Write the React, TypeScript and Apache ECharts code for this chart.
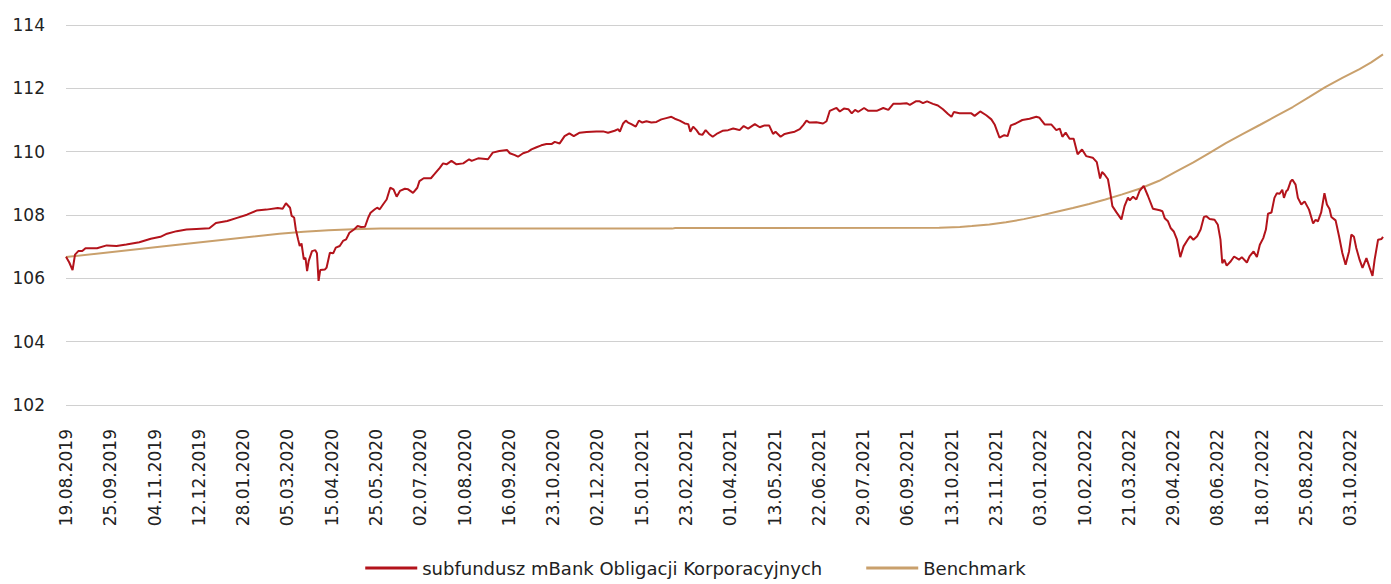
import React, { useEffect, useRef } from "react";
import * as echarts from "echarts";

// Tick labels every 27 business days (index 0 = 19.08.2019)
const tickLabels = [
  "19.08.2019", "25.09.2019", "04.11.2019", "12.12.2019", "28.01.2020", "05.03.2020",
  "15.04.2020", "25.05.2020", "02.07.2020", "10.08.2020", "16.09.2020", "23.10.2020",
  "02.12.2020", "15.01.2021", "23.02.2021", "01.04.2021", "13.05.2021", "22.06.2021",
  "29.07.2021", "06.09.2021", "13.10.2021", "23.11.2021", "03.01.2022", "10.02.2022",
  "21.03.2022", "29.04.2022", "08.06.2022", "18.07.2022", "25.08.2022", "03.10.2022",
];
const tickStep = 27;
const lastIndex = 803;

const fundName = "subfundusz mBank Obligacji Korporacyjnych";
const benchName = "Benchmark";

// [business-day index, value]
const fundValues: [number, number][] = [
  [0, 106.68], [2, 106.5], [4, 106.26], [5.5, 106.75], [7.5, 106.86], [9.9, 106.86], [11.9, 106.95],
  [18.9, 106.95], [24.8, 107.04], [30.8, 107.02], [36.8, 107.07], [44.7, 107.14], [51.7, 107.25],
  [57.6, 107.31], [61.6, 107.41], [67.5, 107.49], [73.5, 107.54], [79.5, 107.56], [87.4, 107.58],
  [91.4, 107.75], [98.3, 107.81], [104.3, 107.91], [110.3, 108.01], [116.2, 108.14], [122.2, 108.17],
  [129.1, 108.22], [132.1, 108.2], [134.1, 108.37], [136.6, 108.23], [137.6, 107.97], [139.1, 107.92],
  [140.1, 107.55], [141.5, 107.23], [142.5, 107.02], [143.6, 107.1], [145, 106.6], [146, 106.65],
  [147, 106.23], [148, 106.55], [150, 106.86], [152, 106.89], [153, 106.79], [154, 105.92],
  [155, 106.26], [157.9, 106.28], [158.9, 106.34], [160.9, 106.81], [162.9, 106.79], [164.5, 106.97],
  [166.9, 107.02], [168.9, 107.18], [170.8, 107.23], [172.8, 107.44], [175.8, 107.55], [177.8, 107.65],
  [179.8, 107.62], [182.3, 107.63], [184.3, 107.92], [185.7, 108.07], [188.3, 108.18], [189.7, 108.23],
  [191.3, 108.18], [193.4, 108.34], [195.5, 108.49], [197.7, 108.86], [199.7, 108.81], [201.6, 108.58],
  [203.6, 108.76], [206.6, 108.83], [208.6, 108.81], [211.6, 108.7], [214.2, 108.86], [215.5, 109.07],
  [218.1, 109.16], [222.5, 109.16], [224.5, 109.28], [227.9, 109.49], [229.9, 109.63], [232, 109.6],
  [235, 109.71], [238.1, 109.6], [242.2, 109.63], [245.8, 109.76], [247.3, 109.71], [251.3, 109.79],
  [257.3, 109.76], [260.2, 109.97], [264.2, 110.02], [269, 110.05], [270.6, 109.95], [273.7, 109.89],
  [275.6, 109.84], [278.7, 109.95], [281.8, 110.0], [283.8, 110.07], [286.9, 110.14], [289.8, 110.2],
  [292.9, 110.24], [296, 110.24], [298, 110.31], [301, 110.26], [304, 110.49], [306.9, 110.58],
  [309.6, 110.49], [313.2, 110.6], [317.4, 110.62], [323.4, 110.64], [327.5, 110.64], [330.5, 110.6],
  [334.5, 110.66], [336.7, 110.71], [337.7, 110.63], [339.7, 110.89], [341.3, 110.98], [342.7, 110.92],
  [344.7, 110.87], [347.4, 110.79], [349.3, 110.98], [351.4, 110.92], [353.9, 110.96], [356.9, 110.92],
  [360, 110.94], [363, 111.02], [366, 111.06], [369.1, 111.1], [371.2, 111.04], [374.2, 110.98],
  [377.3, 110.89], [379.4, 110.87], [380.7, 110.63], [382.4, 110.79], [384.4, 110.68], [386, 110.56],
  [388, 110.53], [390, 110.68], [392.1, 110.56], [394.3, 110.47], [397.3, 110.58], [400.3, 110.66],
  [403.7, 110.68], [406.8, 110.73], [408.7, 110.71], [410.7, 110.68], [413.2, 110.81], [415.9, 110.73],
  [420, 110.87], [423, 110.77], [426, 110.83], [428.7, 110.83], [431.1, 110.56], [432.6, 110.63],
  [435.7, 110.47], [438.2, 110.56], [441.3, 110.6], [444.3, 110.63], [447.4, 110.71], [449.5, 110.84],
  [451.5, 110.98], [453.4, 110.92], [457.5, 110.93], [461.6, 110.89], [463.7, 110.96], [465.7, 111.29],
  [468.7, 111.36], [469.8, 111.38], [471.8, 111.27], [474.3, 111.36], [477, 111.34], [479.1, 111.21],
  [481.1, 111.32], [483.1, 111.26], [486.6, 111.38], [489.2, 111.29], [494.3, 111.29], [498.3, 111.38],
  [501.4, 111.32], [504.4, 111.51], [508.6, 111.51], [512.5, 111.53], [514.5, 111.48], [518.1, 111.59],
  [520.5, 111.59], [522.5, 111.53], [525, 111.59], [528.6, 111.51], [531.6, 111.46], [534.7, 111.34],
  [537.8, 111.19], [539.9, 111.1], [541.3, 111.25], [544.8, 111.21], [548.9, 111.21], [552, 111.21],
  [554, 111.13], [557.4, 111.27], [561.1, 111.15], [564.2, 111.02], [566.2, 110.86], [567.7, 110.65],
  [569.2, 110.44], [572.1, 110.52], [574.1, 110.49], [576.1, 110.83], [579.1, 110.89], [583.1, 111.0],
  [587.5, 111.04], [591.6, 111.1], [593.6, 111.07], [596.7, 110.86], [600.7, 110.86], [603.8, 110.68],
  [605.9, 110.73], [607.5, 110.47], [609.5, 110.6], [611.9, 110.41], [614.4, 110.41], [616.8, 109.92],
  [619.5, 110.07], [622, 109.86], [626, 109.81], [628.5, 109.67], [630.5, 109.15], [631.7, 109.36],
  [633.2, 109.28], [635.3, 109.13], [636.7, 108.71], [638, 108.28], [640.4, 108.09], [643.5, 107.86],
  [645.4, 108.28], [647.5, 108.55], [648.6, 108.46], [650.6, 108.58], [652.6, 108.49], [654.6, 108.76],
  [657.1, 108.92], [659.7, 108.6], [662.7, 108.2], [666.9, 108.15], [668.5, 108.12], [669.9, 107.9],
  [671.9, 107.8], [673.5, 107.59], [675.4, 107.48], [677.4, 107.22], [679.4, 106.67], [681.4, 107.01],
  [684.2, 107.24], [685.4, 107.33], [687.4, 107.22], [689.7, 107.33], [691.8, 107.54], [693.8, 107.94],
  [695.3, 107.96], [697.3, 107.87], [700.3, 107.85], [702.3, 107.69], [703.9, 107.22], [705, 106.48],
  [706.2, 106.59], [707.7, 106.4], [710.2, 106.54], [712.2, 106.69], [715.2, 106.59], [716.9, 106.67],
  [720, 106.5], [721.6, 106.69], [724.1, 106.85], [726.1, 106.67], [727.9, 107.06], [730, 107.27],
  [731.6, 107.54], [732.9, 108.04], [735, 108.08], [736.8, 108.54], [738.3, 108.69], [740, 108.67],
  [741.6, 108.8], [742.6, 108.54], [744, 108.75], [745, 108.8], [746.7, 109.06], [747.7, 109.12],
  [749.7, 108.96], [751.1, 108.54], [753.2, 108.33], [755.2, 108.43], [757.9, 108.17], [760.4, 107.73],
  [761.9, 107.85], [763.3, 107.8], [765.3, 108.08], [767.3, 108.69], [768.8, 108.33], [770.4, 108.19],
  [771.5, 107.94], [774.1, 107.83], [776.2, 107.33], [778.2, 106.8], [780.2, 106.43], [782.3, 106.85],
  [783.7, 107.38], [785.3, 107.31], [786.7, 106.96], [788.7, 106.59], [790.5, 106.33], [792.9, 106.64],
  [794.9, 106.33], [796.6, 106.08], [797.9, 106.59], [800, 107.22], [802.1, 107.24], [803, 107.31],
];

const benchValues: [number, number][] = [
  [0, 106.67], [69.5, 107.07], [130.1, 107.41], [145, 107.47], [160, 107.52], [175, 107.55],
  [191.7, 107.57], [369.5, 107.57], [371.5, 107.59], [532.4, 107.6], [545, 107.62], [552.3, 107.65],
  [563, 107.7], [573.1, 107.77], [584, 107.87], [594, 107.98], [604, 108.1], [613.9, 108.22],
  [623.8, 108.35], [633.7, 108.49], [644, 108.65], [654.6, 108.83], [666.5, 109.08], [676.5, 109.36],
  [687.4, 109.66], [697.3, 109.96], [707.2, 110.27], [717.6, 110.56], [728.1, 110.85], [738, 111.13],
  [748, 111.41], [757.9, 111.72], [767.8, 112.04], [778.2, 112.33], [788.7, 112.61], [795.8, 112.82],
  [803, 113.07],
];

const FONT = "'DejaVu Sans', sans-serif";

export default function App() {
  const ref = useRef<HTMLDivElement>(null);
  useEffect(() => {
    if (!ref.current) return;
    const chart = echarts.init(ref.current, undefined, { renderer: "svg" });
    chart.setOption({
      animation: false,
      textStyle: { fontFamily: FONT },
      grid: { left: 66, right: 8, top: 25, bottom: 179, containLabel: false },
      legend: {
        bottom: 2,
        left: "center",
        itemWidth: 52,
        itemHeight: 3,
        itemGap: 44,
        icon: "rect",
        textStyle: { fontSize: 18, color: "#222", fontFamily: FONT },
        data: [fundName, benchName],
      },
      xAxis: {
        type: "value",
        min: 0,
        max: lastIndex,
        interval: tickStep,
        axisLine: { show: false },
        axisTick: { show: false },
        splitLine: { show: false },
        axisLabel: {
          rotate: 90,
          margin: 24,
          fontSize: 17,
          color: "#222",
          fontFamily: FONT,
          showMaxLabel: false,
          formatter: (v: number) => {
            const k = Math.round(v / tickStep);
            return Math.abs(k * tickStep - v) < 1e-6 && tickLabels[k] ? tickLabels[k] : "";
          },
        },
      },
      yAxis: {
        type: "value",
        min: 102,
        max: 114,
        interval: 2,
        axisLine: { show: false },
        axisTick: { show: false },
        splitLine: { lineStyle: { color: "#d0d0d0", width: 1 } },
        axisLabel: { margin: 21, fontSize: 17, color: "#222", fontFamily: FONT },
      },
      series: [
        {
          name: fundName,
          type: "line",
          data: fundValues,
          showSymbol: false,
          symbol: "none",
          lineStyle: { color: "#B3131B", width: 2 },
          itemStyle: { color: "#B3131B" },
          z: 3,
        },
        {
          name: benchName,
          type: "line",
          data: benchValues,
          showSymbol: false,
          symbol: "none",
          lineStyle: { color: "#C9A06C", width: 2 },
          itemStyle: { color: "#C9A06C" },
          z: 2,
        },
      ],
    });
    return () => chart.dispose();
  }, []);
  return (
    <div
      ref={ref}
      style={{ position: "fixed", left: 0, top: 0, width: 1391, height: 584, background: "#fff" }}
    />
  );
}
